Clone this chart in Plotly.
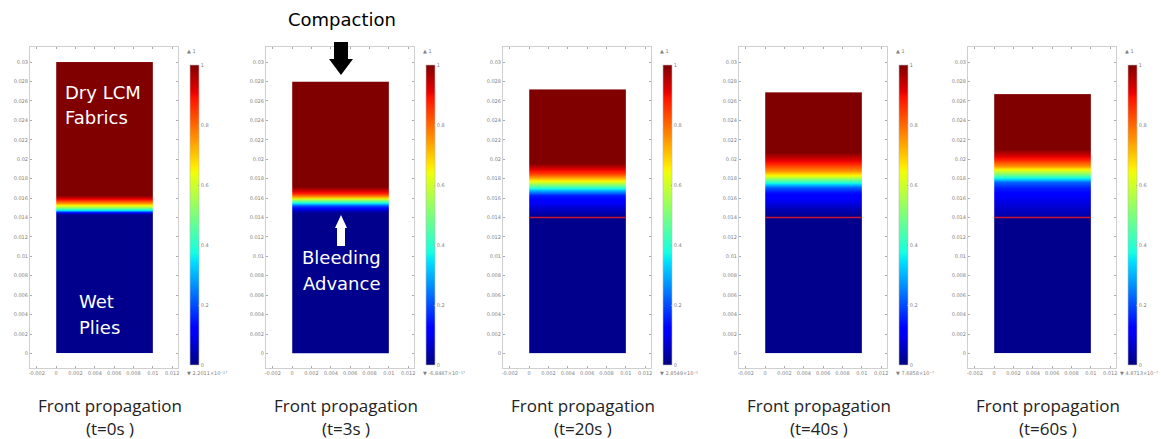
import plotly.graph_objects as go

W, H = 1161, 439

# ---------------- data ----------------
times = ["0s", "3s", "20s", "40s", "60s"]
min_labels = ["2.2011×10⁻¹⁷", "-6.8487×10⁻¹⁷", "2.8549×10⁻⁵", "7.6858×10⁻⁷", "4.8713×10⁻⁷"]

# saturation profile along thickness (y, m) -> value (0 wet .. 1 dry)
prof_y_t0 = [0, 0.0141, 0.0143, 0.0146, 0.0148, 0.0151, 0.0155, 0.0159, 0.0163, 0.030]
prof_v_t0 = [0.01, 0.01, 0.02, 0.15, 0.35, 0.55, 0.75, 0.90, 1.0, 1.0]

prof_y_t3 = [0, 0.0144, 0.0147, 0.0152, 0.0155, 0.0158, 0.0161, 0.0165, 0.0172, 0.028]
prof_v_t3 = [0.01, 0.01, 0.05, 0.2, 0.38, 0.55, 0.7, 0.87, 1.0, 1.0]

prof_y_t20 = [0, 0.0140, 0.0145, 0.0155, 0.0163, 0.0168, 0.0172, 0.0176, 0.0180, 0.0186, 0.0196, 0.0272]
prof_v_t20 = [0.01, 0.01, 0.04, 0.1, 0.15, 0.3, 0.45, 0.6, 0.72, 0.85, 1.0, 1.0]

prof_y_t40 = [0, 0.0140, 0.0148, 0.0158, 0.0166, 0.0171, 0.0175, 0.0179, 0.0183, 0.0188, 0.0196, 0.0207, 0.0269]
prof_v_t40 = [0.01, 0.01, 0.04, 0.1, 0.14, 0.22, 0.36, 0.5, 0.62, 0.75, 0.88, 1.0, 1.0]

prof_y_t60 = [0, 0.0138, 0.0142, 0.0160, 0.0170, 0.0176, 0.0181, 0.0185, 0.0189, 0.0193, 0.0200, 0.0210, 0.0267]
prof_v_t60 = [0.01, 0.01, 0.04, 0.1, 0.15, 0.22, 0.36, 0.5, 0.62, 0.75, 0.88, 1.0, 1.0]

profiles_y = [prof_y_t0, prof_y_t3, prof_y_t20, prof_y_t40, prof_y_t60]
profiles_v = [prof_v_t0, prof_v_t3, prof_v_t20, prof_v_t40, prof_v_t60]

width_x = [0.0, 0.01]
ref_line_y = [None, None, 0.014, 0.014, 0.014]

x_tick_labels = ["-0.002", "0", "0.002", "0.004", "0.006", "0.008", "0.01", "0.012"]
y_tick_labels = ["0", "0.002", "0.004", "0.006", "0.008", "0.01", "0.012", "0.014",
                 "0.016", "0.018", "0.02", "0.022", "0.024", "0.026", "0.028", "0.03"]
cb_tick_labels = ["0", "0.2", "0.4", "0.6", "0.8", "1"]

# ---------------- style ----------------
JET = [
    [0.0, "rgb(0,0,128)"], [0.11, "rgb(0,0,255)"], [0.125, "rgb(0,0,255)"],
    [0.34, "rgb(0,219,255)"], [0.35, "rgb(0,230,247)"], [0.375, "rgb(21,255,226)"],
    [0.64, "rgb(239,255,8)"], [0.66, "rgb(255,236,0)"], [0.89, "rgb(255,19,0)"],
    [0.91, "rgb(232,0,0)"], [1.0, "rgb(128,0,0)"],
]

heat_left = [56, 292, 529, 765, 994]
FRAME_TOP, FRAME_BOT = 47, 368


def X(px):
    return px / W


def Y(py):
    return 1 - py / H


fig = go.Figure()
layout = dict(
    width=W, height=H, margin=dict(l=0, r=0, t=0, b=0, autoexpand=False),
    paper_bgcolor="white", plot_bgcolor="white", showlegend=False,
)
annotations = []
shapes = []
tiny = dict(size=5, color="#808080", family="DejaVu Sans")
cap_font = dict(size=17, color="#222", family="Open Sans")

for i in range(5):
    hl = heat_left[i]
    sfx = "" if i == 0 else str(i + 1)
    xa, ya = "x" + sfx, "y" + sfx
    z = [[v, v] for v in profiles_v[i]]
    fig.add_trace(go.Contour(
        x=width_x, y=profiles_y[i], z=z, xaxis=xa, yaxis=ya,
        colorscale=JET, zmin=0, zmax=1,
        contours=dict(coloring="heatmap", showlines=False),
        line=dict(width=0), hoverinfo="skip",
        colorbar=dict(
            x=X(hl + 134), xanchor="left", xref="paper",
            y=Y(215), yanchor="middle", len=300 / H, lenmode="fraction",
            thickness=9, thicknessmode="pixels", xpad=0, ypad=0,
            outlinewidth=0.6, outlinecolor="#bbb",
            tickmode="array", tickvals=[float(s) for s in cb_tick_labels],
            ticktext=cb_tick_labels, tickfont=tiny, ticks="inside", ticklen=1,
            tickcolor="#999",
        ),
    ))
    if ref_line_y[i] is not None:
        fig.add_trace(go.Scatter(
            x=width_x, y=[ref_line_y[i], ref_line_y[i]], mode="lines",
            line=dict(color="rgb(200,20,50)", width=1.5),
            xaxis=xa, yaxis=ya, hoverinfo="skip",
        ))
    axcommon = dict(showgrid=False, zeroline=False, showline=True, linecolor="#cfcfcf",
                    linewidth=1, mirror="allticks", ticks="inside", ticklen=2,
                    tickcolor="#aaa", tickfont=tiny)
    layout["xaxis" + sfx] = dict(
        domain=[X(hl - 26), X(hl + 122)], range=[-0.0027, 0.0126], anchor=ya,
        tickmode="array", tickvals=[float(s) for s in x_tick_labels],
        ticktext=x_tick_labels, **axcommon)
    layout["yaxis" + sfx] = dict(
        domain=[Y(FRAME_BOT), Y(FRAME_TOP)], range=[-0.0015, 0.03155], anchor=xa,
        tickmode="array", tickvals=[float(s) for s in y_tick_labels],
        ticktext=y_tick_labels, **axcommon)

    # colorbar max / min labels
    annotations.append(dict(x=X(hl + 129), y=Y(51), text="▲ 1", xanchor="left", font=tiny))
    if i < 4:
        annotations.append(dict(x=X(hl + 129), y=Y(373), text="▼ " + min_labels[i],
                                xanchor="left", font=tiny))
    else:
        annotations.append(dict(x=X(W - 1), y=Y(373), text="▼ " + min_labels[i],
                                xanchor="right", font=tiny))
    # captions
    cx = hl + 54
    annotations.append(dict(x=X(cx), y=Y(405), text="Front propagation",
                            xanchor="center", font=cap_font))
    annotations.append(dict(x=X(cx), y=Y(428), text="(t=" + times[i] + " )",
                            xanchor="center", font=cap_font))

# overlay texts
big_white = dict(size=18, color="white", family="DejaVu Sans")
annotations += [
    dict(x=X(63), y=Y(92), text="Dry LCM", xanchor="left", font=big_white),
    dict(x=X(63), y=Y(118), text="Fabrics", xanchor="left", font=big_white),
    dict(x=X(77), y=Y(301), text="Wet", xanchor="left", font=big_white),
    dict(x=X(77), y=Y(327), text="Plies", xanchor="left", font=big_white),
    dict(x=X(341), y=Y(257), text="Bleeding", xanchor="center", font=big_white),
    dict(x=X(341), y=Y(283), text="Advance", xanchor="center", font=big_white),
    dict(x=X(342), y=Y(20), text="Compaction", xanchor="center",
         font=dict(size=18, color="black", family="DejaVu Sans")),
]
for a in annotations:
    a.setdefault("xref", "paper")
    a.setdefault("yref", "paper")
    a.setdefault("showarrow", False)
    a.setdefault("yanchor", "middle")


def path(pts):
    return "M " + " L ".join(f"{X(px):.5f},{Y(py):.5f}" for px, py in pts) + " Z"


# black compaction arrow (down)
shapes.append(dict(type="path", xref="paper", yref="paper",
                   path=path([(334, 42), (348, 42), (348, 59), (353, 59), (341, 75),
                              (329, 59), (334, 59)]),
                   fillcolor="black", line=dict(width=0)))
# white bleeding arrow (up)
shapes.append(dict(type="path", xref="paper", yref="paper",
                   path=path([(341, 215), (347, 228), (345, 228), (345, 246),
                              (337, 246), (337, 228), (335, 228)]),
                   fillcolor="white", line=dict(width=0)))

layout["annotations"] = annotations
layout["shapes"] = shapes
fig.update_layout(**layout)
fig.write_html("out.html", config={"displayModeBar": False},
               post_script="document.body.style.margin='0px';"
               "document.body.style.padding='0px';")
